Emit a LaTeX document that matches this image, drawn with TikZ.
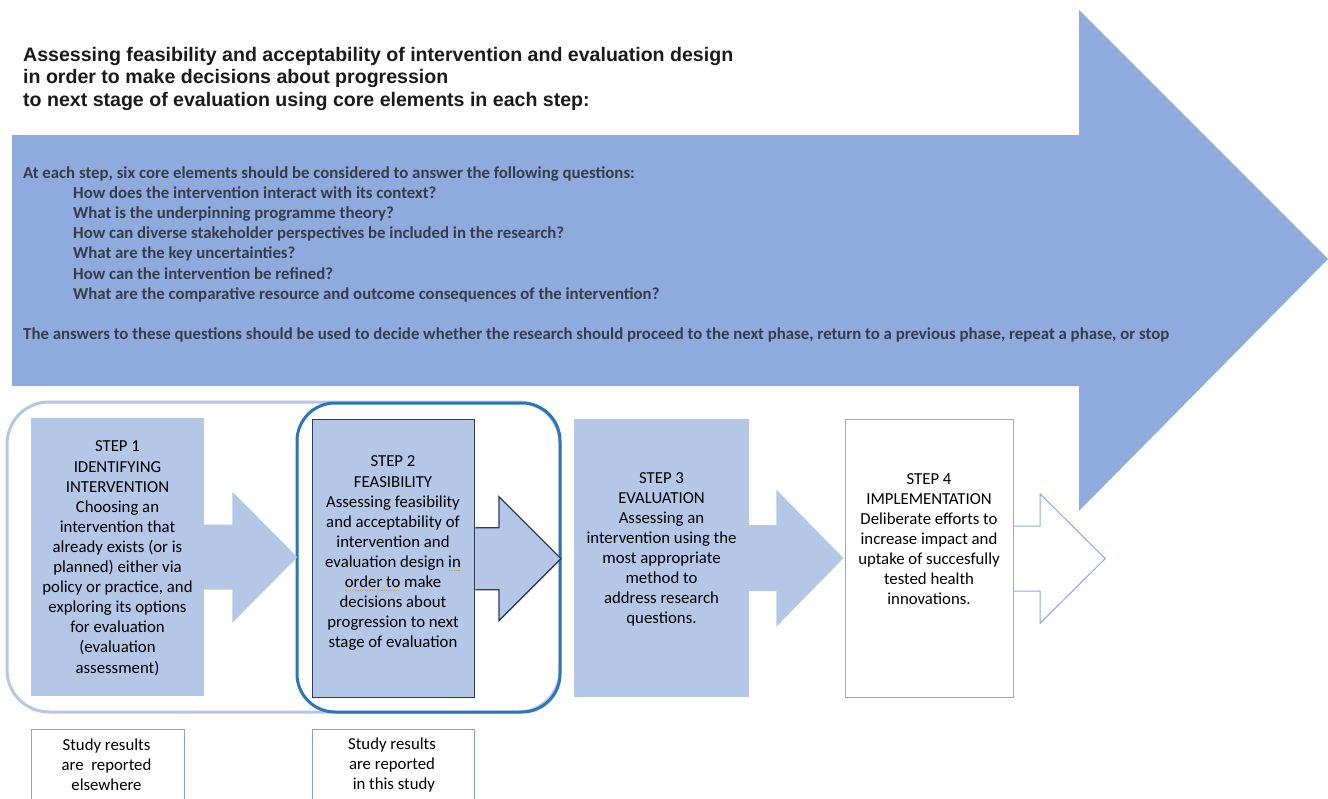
\documentclass[tikz,border=0pt]{standalone}
\usepackage{fontspec}
\setmainfont{Carlito}
\newfontfamily\arialfont{Liberation Sans}
\usetikzlibrary{calc}
\definecolor{bigblue}{HTML}{8FAADC}
\definecolor{stepblue}{HTML}{B4C7E7}
\definecolor{lightframe}{HTML}{B4C7E7}
\definecolor{darkframe}{HTML}{2E75B6}
\definecolor{navyline}{HTML}{2F3A56}
\definecolor{paleline}{HTML}{8FAADC}
\definecolor{resline}{HTML}{7FA6D6}
\definecolor{arrowtext}{HTML}{363D4A}
\definecolor{titletext}{HTML}{1A1A1A}
\definecolor{squigc}{HTML}{B8A060}
\pgfdeclarelayer{back}
\pgfdeclarelayer{mid}
\pgfsetlayers{back,mid,main}
\newsavebox\measbox
\newsavebox\squigbox
\newcommand\fitsize[4]{\sbox\measbox{#2\fontsize{10pt}{12pt}\selectfont #3}\pgfmathsetmacro{#1}{10*#4/\the\wd\measbox}}
\newcommand\squig[1]{\sbox\squigbox{#1}\rlap{\color{squigc}\raisebox{-3pt}{\leaders\hbox to 2.4pt{\hss\rule{1.2pt}{0.7pt}\hss}\hskip\wd\squigbox}}#1}
% node, shaft half, head base, head half, tip, fill opts, draw opts
\newcommand\blkarrow[7]{%
  \fill[#6] ($(#1.east)+(-1,-#2)$) -- ($(#1.east)+(#3,-#2)$) -- ($(#1.east)+(#3,-#4)$) -- ($(#1.east)+(#5,0)$) -- ($(#1.east)+(#3,#4)$) -- ($(#1.east)+(#3,#2)$) -- ($(#1.east)+(-1,#2)$) -- cycle;
  \draw[#7] ($(#1.east)+(0,-#2)$) -- ($(#1.east)+(#3,-#2)$) -- ($(#1.east)+(#3,-#4)$) -- ($(#1.east)+(#5,0)$) -- ($(#1.east)+(#3,#4)$) -- ($(#1.east)+(#3,#2)$) -- ($(#1.east)+(0,#2)$);
}
\begin{document}
\fitsize\titlesz{\arialfont\bfseries}{Assessing feasibility and acceptability of intervention and evaluation design}{710}%
\fitsize\bodysz{\bfseries}{The answers to these questions should be used to decide whether the research should proceed to the next phase, return to a previous phase, repeat a phase, or stop}{1146}%
\fitsize\stepsz{}{intervention using the}{150}%
\begin{tikzpicture}[x=1pt,y=-1pt,
  stepbox/.style={rectangle, inner sep=0pt, anchor=north west, minimum height=278pt},
  steptext/.style={inner sep=0pt, anchor=north, align=center, text=black, font=\fontsize{\stepsz pt}{20.1pt}\selectfont},
  restext/.style={inner sep=0pt, anchor=north, align=center, text=black, font=\fontsize{\stepsz pt}{20.1pt}\selectfont},
  resbox/.style={rectangle, inner sep=0pt, anchor=north west, minimum height=90pt, draw=resline, line width=1.2pt, fill=white}]
\useasboundingbox (0,0) rectangle (1328,798);
\begin{pgfonlayer}{back}
\fill[white] (0,0) rectangle (1328,798);
% big arrow
\fill[bigblue] (12,135) -- (1079,135) -- (1079,10) -- (1328,259) -- (1079,511) -- (1079,386) -- (12,386) -- cycle;
% frames
\draw[lightframe, line width=3pt, rounded corners=42pt] (7,402) rectangle (560,712);
\draw[darkframe, line width=3pt, rounded corners=38pt] (297,403) rectangle (560,712);
\end{pgfonlayer}
% title
\node[inner sep=0pt, anchor=north west, align=left, text=titletext,
  font=\arialfont\bfseries\fontsize{\titlesz pt}{22.5pt}\selectfont] (title) at (23,41)
  {\rule{0pt}{20pt}Assessing feasibility and acceptability of intervention and evaluation design\\
   in order to make decisions about progression\\
   to next stage of evaluation using core elements in each step:};
% questions text
\node[inner sep=0pt, anchor=north west, align=left, text=arrowtext,
  font=\bfseries\fontsize{\bodysz pt}{20.1pt}\selectfont] (questions) at (23,164.3)
  {\rule{0pt}{14pt}At each step, six core elements should be considered to answer the following questions:\\
   \hspace*{50pt}How does the intervention interact with its context?\\
   \hspace*{50pt}What is the underpinning programme theory?\\
   \hspace*{50pt}How can diverse stakeholder perspectives be included in the research?\\
   \hspace*{50pt}What are the key uncertainties?\\
   \hspace*{50pt}How can the intervention be refined?\\
   \hspace*{50pt}What are the comparative resource and outcome consequences of the intervention?\\[20.1pt]
   The answers to these questions should be used to decide whether the research should proceed to the next phase, return to a previous phase, repeat a phase, or stop};
% step boxes
\node[stepbox, fill=stepblue, minimum width=173pt] (s1) at (31,418) {};
\node[stepbox, fill=stepblue, draw=navyline, line width=1.4pt, minimum width=162pt] (s2) at (312,419) {};
\node[stepbox, fill=stepblue, minimum width=175pt] (s3) at (574,419) {};
\node[stepbox, fill=white, draw=paleline, line width=1.2pt, minimum width=168pt] (s4) at (845,419) {};
% block arrows
\begin{pgfonlayer}{mid}
\blkarrow{s1}{32.5}{28}{65.5}{93}{stepblue}{draw=none}
\blkarrow{s2}{31}{23.5}{62}{85.5}{stepblue}{navyline, line width=1.3pt, line join=miter}
\blkarrow{s3}{33}{27}{68.5}{94}{stepblue}{draw=none}
\blkarrow{s4}{32.5}{26}{64.5}{91}{white}{paleline, line width=1pt, line join=miter}
\end{pgfonlayer}
% step texts
\node[steptext] (t1) at (117.5,437.7)
 {\rule{0pt}{14pt}STEP 1\\IDENTIFYING\\INTERVENTION\\Choosing an\\intervention that\\already exists (or is\\planned) either via\\policy or practice, and\\exploring its options\\for evaluation\\(evaluation\\assessment)};
\node[steptext] (t2) at (393,452.7)
 {\rule{0pt}{14pt}STEP 2\\FEASIBILITY\\Assessing feasibility\\and acceptability of\\intervention and\\evaluation design \squig{in}\\\squig{order to} make\\decisions about\\progression to next\\stage of evaluation};
\node[steptext] (t3) at (661.5,469)
 {\rule{0pt}{14pt}STEP 3\\EVALUATION\\Assessing an\\intervention using the\\most appropriate\\method to\\address research\\questions.};
\node[steptext] (t4) at (929,470)
 {\rule{0pt}{14pt}STEP 4\\IMPLEMENTATION\\Deliberate efforts to\\increase impact and\\uptake of succesfully\\tested health\\innovations.};
% results boxes
\node[resbox, minimum width=153pt] (r1) at (31,729) {};
\node[resbox, minimum width=162pt] (r2) at (312,729) {};
\node[restext] (rt1) at (106.5,736) {\rule{0pt}{14pt}Study results\\are\ \ reported\\elsewhere};
\node[restext] (rt2) at (392,735) {\rule{0pt}{14pt}Study results\\are reported\\\ in this study};
\end{tikzpicture}
\end{document}
